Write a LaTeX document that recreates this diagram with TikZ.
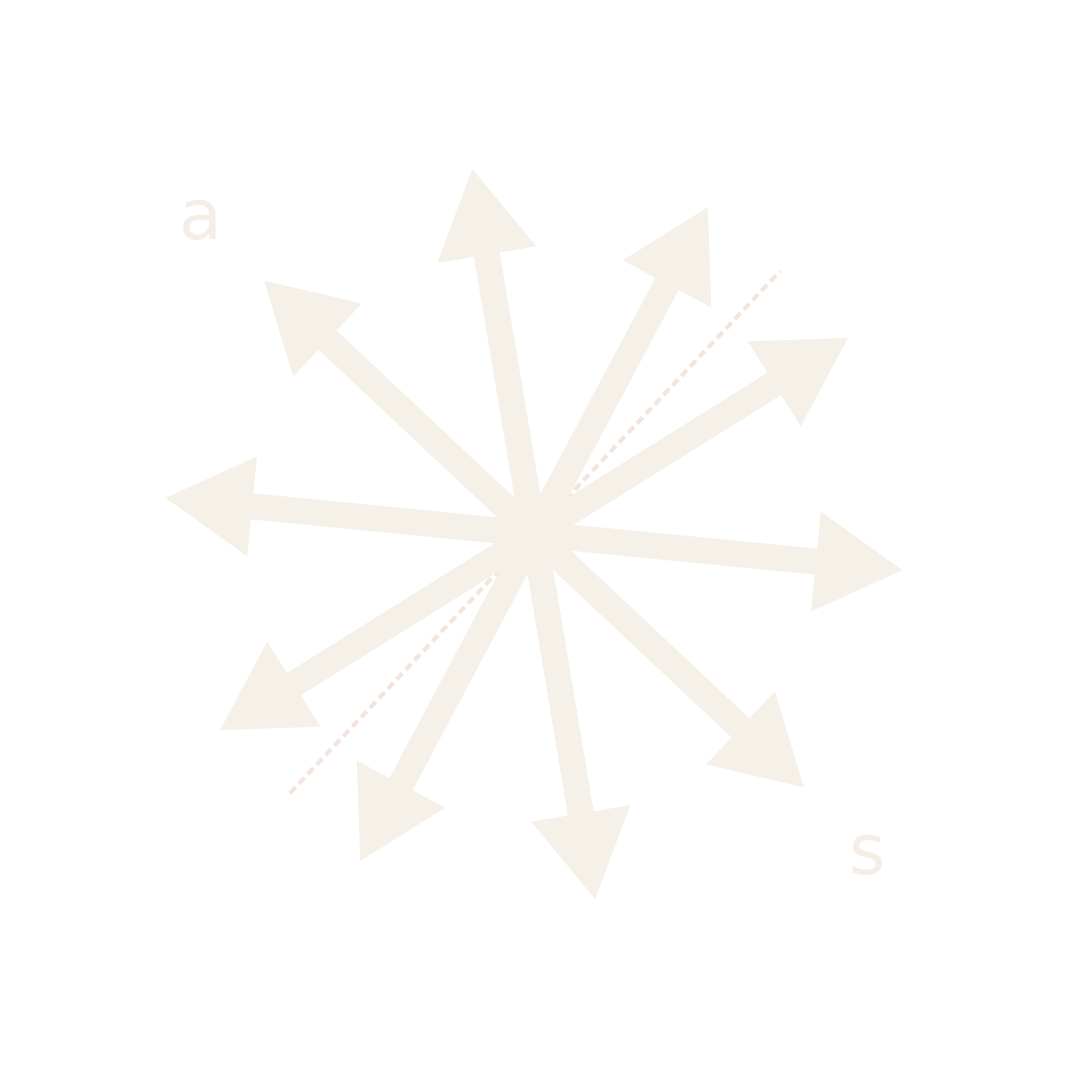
\documentclass[tikz,border=0pt]{standalone}
\usepackage{fontspec}
\setmainfont{DejaVu Sans}
\usetikzlibrary{calc}
\definecolor{arrowfill}{RGB}{245,240,232}
\definecolor{dashcol}{RGB}{243,229,219}
\definecolor{labelcol}{RGB}{245,238,230}
\begin{document}
\begin{tikzpicture}[x=1pt,y=1pt,
  bigarrow/.style={fill=arrowfill, draw=none},
  dashline/.style={draw=dashcol, line width=4pt, dash pattern=on 8pt off 5pt},
  lbl/.style={text=labelcol, inner sep=0pt, anchor=base, font=\fontsize{70}{70}\selectfont}]
\useasboundingbox (0,0) rectangle (1068,1068);
\fill[white] (0,0) rectangle (1068,1068);
\coordinate (c) at (534,534);
\coordinate (d1) at (290,275);
\coordinate (d2) at (780,797);
\draw[dashline] (d1) -- (d2);
\foreach \ang [count=\i] in {354.4,32,62,99.6,136.8,174.4,212,242,279.5,316.8} {
  \coordinate (t\i) at ($(c)+(\ang:370)$);
  \begin{scope}[shift={(c)}, rotate=\ang]
    \fill[bigarrow] (0,-13) -- (283.4,-13) -- (283.4,-50) -- (370,0) -- (283.4,50) -- (283.4,13) -- (0,13) -- cycle;
  \end{scope}
}
\node[lbl] (la) at (201,828) {a};
\node[lbl] (ls) at (868,193) {s};
\end{tikzpicture}
\end{document}
